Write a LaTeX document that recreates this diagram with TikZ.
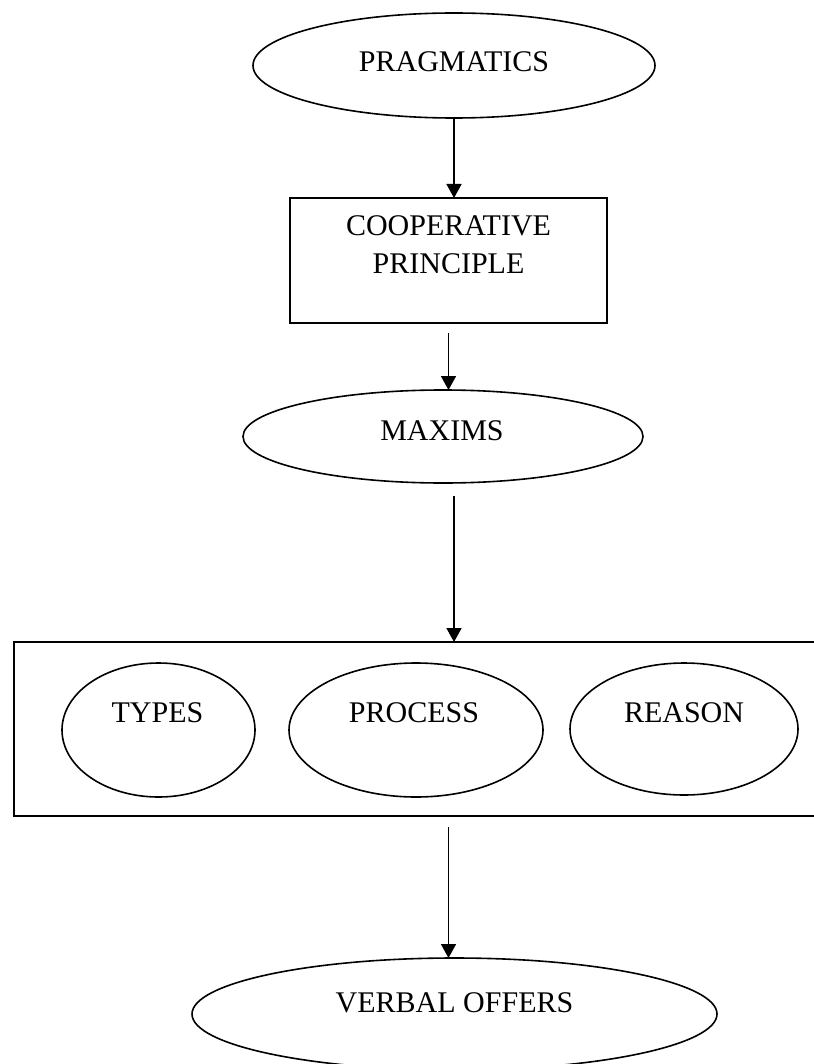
\documentclass[tikz,border=0pt]{standalone}
\usepackage{fontspec}
\setmainfont{Liberation Serif}
\usetikzlibrary{shapes.geometric,arrows.meta}

\tikzset{
	ovalnode/.style={draw, ellipse, line width=0.8pt, inner sep=0pt, outer sep=0pt},
	boxnode/.style={draw, rectangle, line width=0.9pt, inner sep=0pt, outer sep=0pt},
	caption/.style={anchor=base, inner sep=0pt, font=\fontsize{15}{19}\selectfont},
	flowarrow/.style={line width=0.8pt, -{Triangle[length=7pt,width=7.5pt]}}
}

\begin{document}
\begin{tikzpicture}[x=0.5pt,y=-0.5pt]
		\useasboundingbox (0,0) rectangle (813,1064);

		% shapes
		\node[ovalnode, minimum width=201pt, minimum height=52.5pt] (pragmatics) at (454,65.5) {};
		\node[boxnode, minimum width=158.5pt, minimum height=62.5pt] (cooperative) at (448.5,260.5) {};
		\node[ovalnode, minimum width=200pt, minimum height=46.5pt] (maxims) at (443,436.5) {};
		\node[boxnode, minimum width=408pt, minimum height=87pt] (frame) at (422,729) {};
		\node[ovalnode, minimum width=96.5pt, minimum height=67pt] (types) at (158.5,730) {};
		\node[ovalnode, minimum width=127pt, minimum height=67pt] (process) at (416,730) {};
		\node[ovalnode, minimum width=114pt, minimum height=66pt] (reason) at (684,729) {};
		\node[ovalnode, minimum width=262.5pt, minimum height=56pt] (verbal) at (454.5,1014) {};

		% texts
		\node[caption] (pragmaticsText) at (454,72) {PRAGMATICS};
		\node[caption] (cooperativeText) at (448.5,235) {COOPERATIVE};
		\node[caption] (principleText) at (448.5,273) {PRINCIPLE};
		\node[caption] (maximsText) at (442,440) {MAXIMS};
		\node[caption] (typesText) at (157.5,722) {TYPES};
		\node[caption] (processText) at (414,722) {PROCESS};
		\node[caption] (reasonText) at (684,722) {REASON};
		\node[caption] (verbalText) at (454.5,1012) {VERBAL OFFERS};

		% arrows
		\draw[flowarrow] (pragmatics.south) -- (pragmatics.south |- cooperative.north);
		\draw[flowarrow] ([yshift=-5pt]cooperative.south) -- (cooperative.south |- maxims.north);
		\draw[flowarrow] ([yshift=-6.5pt]maxims.south -| pragmatics.south) -- (pragmatics.south |- frame.north);
		\draw[flowarrow] ([yshift=-5.5pt]frame.south -| cooperative.south) -- (cooperative.south |- verbal.north);
	\end{tikzpicture}
\end{document}
